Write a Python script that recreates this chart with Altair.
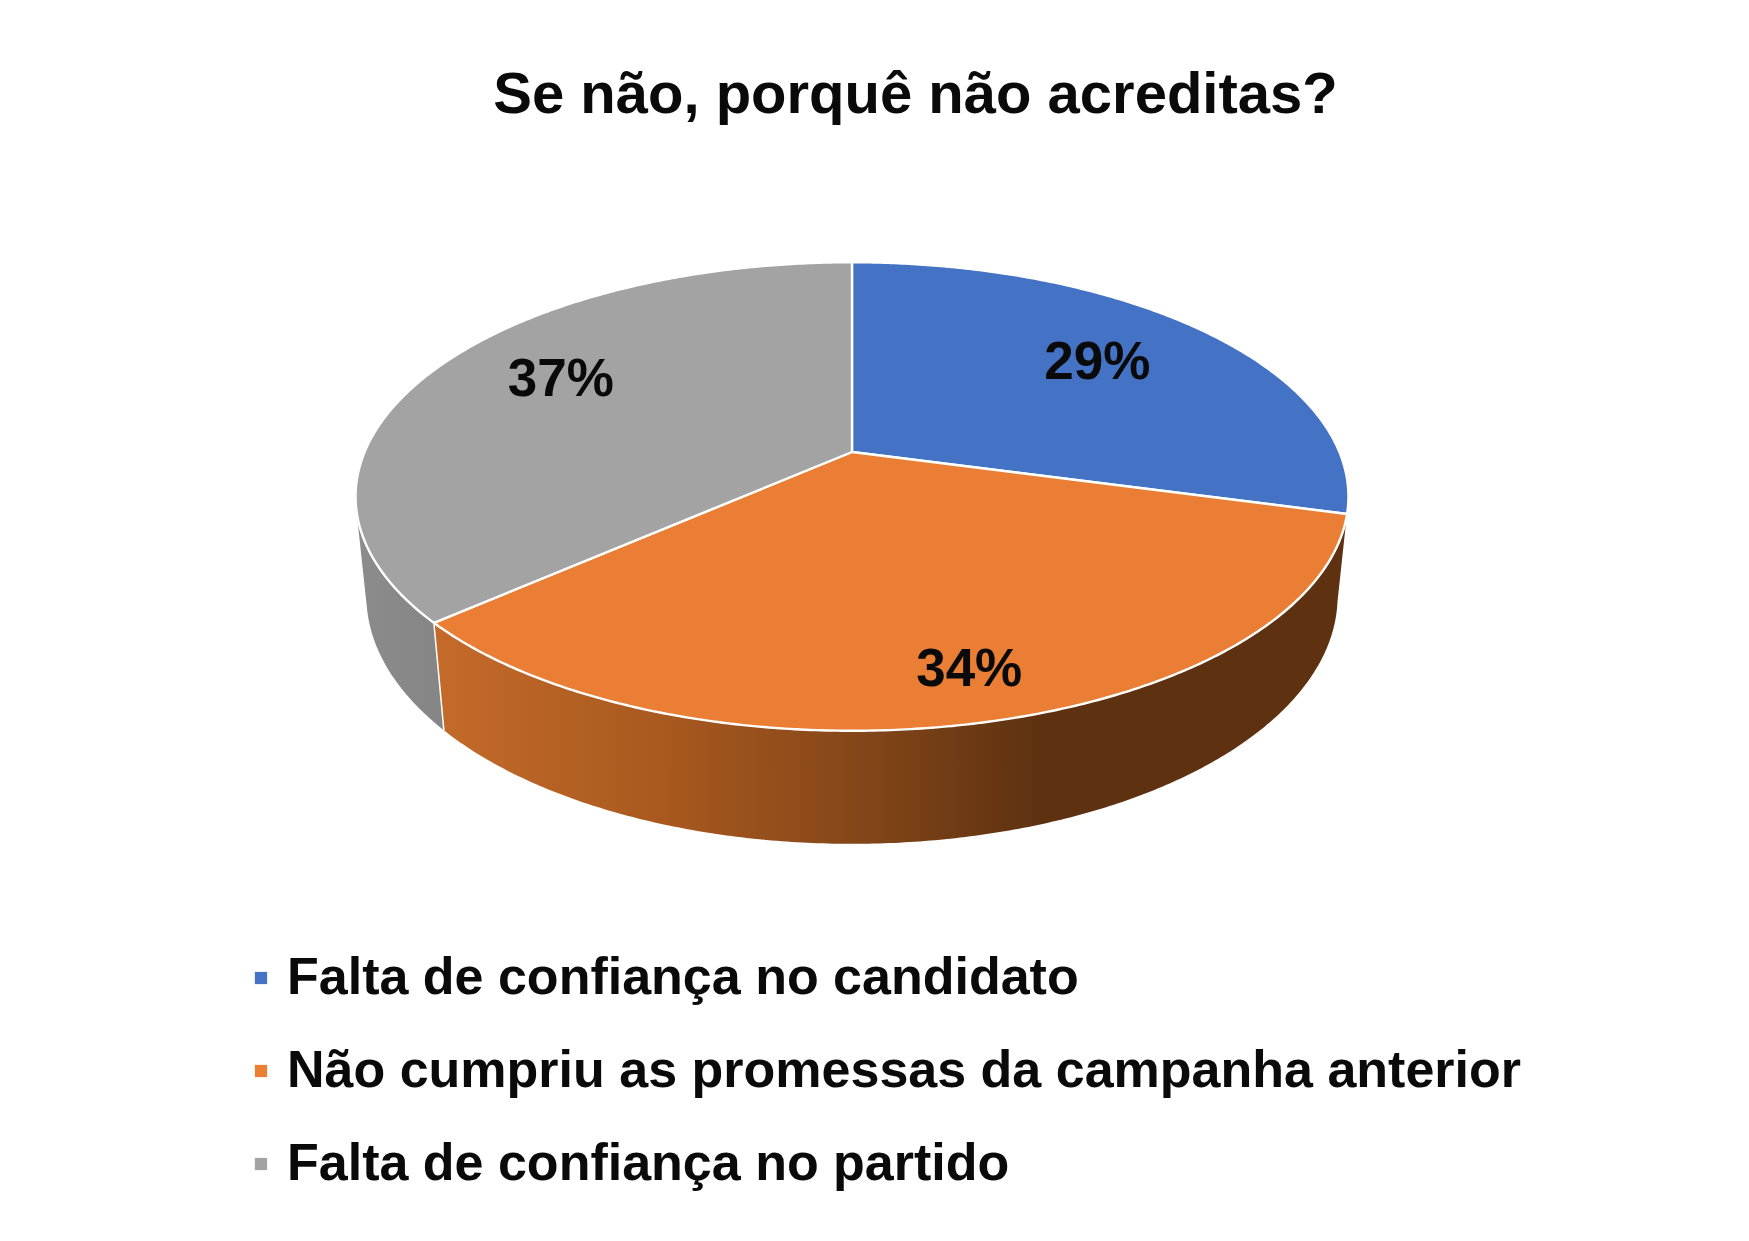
import math
import altair as alt
import pandas as pd

# ---- chart content ----
TITLE = "Se não, porquê não acreditas?"
categories = ["Falta de confiança no candidato",
              "Não cumpriu as promessas da campanha anterior",
              "Falta de confiança no partido"]
shares = [29.2, 34.3, 36.5]              # labels round to 29/34/37
labels = ["29%", "34%", "37%"]
colors = ["#4472C4", "#E97E34", "#A3A3A3"]

# ---- view of the tilted disc (perspective projection) ----
A, B, K = 225.8, 487.4, 0.19
DROP, SHRINK = 100.0, 0.0215
LABEL_SPOT = [(52, 0.69), (166, 0.84), (298, 0.72)]
WALL_START, WALL_END = 102, 256


def project(theta, r=1.0, low=False):
    t = math.radians(theta)
    px, py = r * math.sin(t), r * math.cos(t)
    d = 1 + K * py + (SHRINK if low else 0)
    return B * px / d, (A * py - (DROP if low else 0)) / d


def arc(a0, a1, low=False):
    n = max(2, int(abs(a1 - a0)) * 2)
    return [project(a0 + (a1 - a0) * i / n, low=low) for i in range(n + 1)]


edges = [0.0]
for s in shares:
    edges.append(edges[-1] + s * 3.6)

top_rows, wall_rows, sep_rows, label_rows = [], [], [], []
for cat, a0, a1, lab, spot in zip(categories, edges, edges[1:], labels, LABEL_SPOT):
    pts = [(0.0, 0.0)] + arc(a0, a1) + [(0.0, 0.0)]
    top_rows += [dict(cat=cat, i=i, x=p[0], y=p[1]) for i, p in enumerate(pts)]
    lx, ly = project(spot[0], spot[1])
    label_rows.append(dict(x=lx, y=ly, text=lab))

orange_wall = arc(WALL_START, edges[2]) + arc(edges[2], WALL_START, low=True)
gray_wall = arc(edges[2], WALL_END) + arc(WALL_END, edges[2], low=True)
for name, pts in (("o", orange_wall), ("g", gray_wall)):
    wall_rows += [dict(w=name, i=i, x=p[0], y=p[1]) for i, p in enumerate(pts)]
sep = [project(edges[2]), project(edges[2], low=True)]
sep_rows = [dict(i=i, x=p[0], y=p[1]) for i, p in enumerate(sep)]

# one data unit is one pixel; the disc centre sits at (852, 452) of the page
W, H, TOP = 1733, 1125, 100
xs = alt.Scale(domain=[8 - 852, 8 - 852 + W], nice=False, zero=False)
ys = alt.Scale(domain=[452 - (8 + TOP) - H, 452 - (8 + TOP)], nice=False, zero=False)
X = alt.X("x:Q", scale=xs, axis=None)
Y = alt.Y("y:Q", scale=ys, axis=None)


def grad(stops):
    return alt.LinearGradient(gradient="linear", x1=0, x2=1, y1=0, y2=0,
                              stops=[alt.GradientStop(offset=o, color=c) for o, c in stops])


orange_grad = grad([(0, "#C46B2A"), (0.25, "#A9591F"), (0.45, "#874819"),
                    (0.66, "#5E3211"), (1, "#5E3211")])
gray_grad = grad([(0, "#8C8C8C"), (1, "#858585")])

wall_o = alt.Chart(pd.DataFrame([r for r in wall_rows if r["w"] == "o"])).mark_line(
    fill=orange_grad, strokeWidth=0).encode(x=X, y=Y, order="i:Q")
wall_g = alt.Chart(pd.DataFrame([r for r in wall_rows if r["w"] == "g"])).mark_line(
    fill=gray_grad, strokeWidth=0).encode(x=X, y=Y, order="i:Q")
sep_line = alt.Chart(pd.DataFrame(sep_rows)).mark_line(
    color="white", strokeWidth=1.5).encode(x=X, y=Y, order="i:Q")

top = alt.Chart(pd.DataFrame(top_rows)).mark_line(
    stroke="white", strokeWidth=2.4, strokeJoin="round").encode(
    x=X, y=Y, order="i:Q",
    fill=alt.Fill("cat:N",
                  scale=alt.Scale(domain=categories, range=colors),
                  sort=categories,
                  legend=alt.Legend(
                      title=None, orient="none", legendX=227, legendY=844,
                      direction="vertical", columns=1,
                      symbolType="square", symbolSize=150, symbolStrokeWidth=0,
                      labelFont="Liberation Sans", labelFontWeight="bold",
                      labelFontSize=52, labelColor="#0a0a0a", labelLimit=1400,
                      labelOffset=0, rowPadding=41)))

text = alt.Chart(pd.DataFrame(label_rows)).mark_text(
    font="Liberation Sans", fontWeight="bold", fontSize=53, color="#0a0a0a",
    align="center", baseline="middle").encode(x=X, y=Y, text="text:N")

chart = alt.layer(wall_g, wall_o, sep_line, top, text).resolve_scale(
    fill="independent"
).properties(
    width=W, height=H, background="white",
    view=alt.ViewConfig(stroke=None),
    padding={"left": 0, "right": 0, "top": TOP, "bottom": 0},
    autosize=alt.AutoSizeParams(type="none"),
    title=alt.TitleParams(TITLE, font="Liberation Sans", fontWeight="bold",
                          fontSize=58, color="#0a0a0a", anchor="middle", dx=41,
                          offset=-75, baseline="bottom"),
).configure_view(stroke=None)

chart.save("out.html", embed_options={"renderer": "svg", "actions": False})
